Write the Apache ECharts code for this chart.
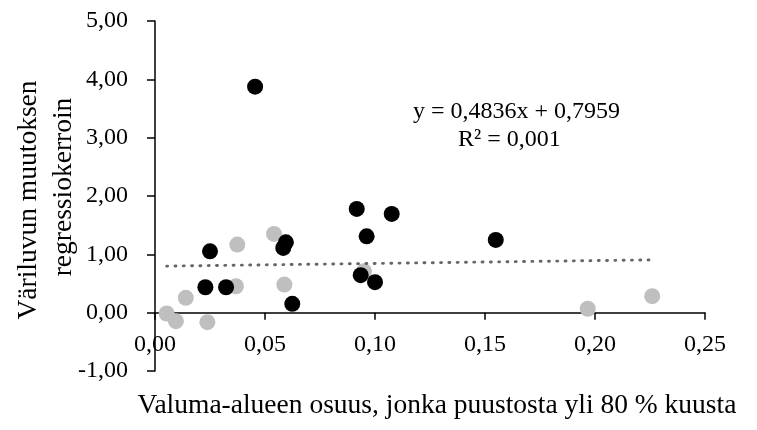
<!DOCTYPE html>
<html>
<head>
<meta charset="utf-8">
<script src="https://cdn.jsdelivr.net/npm/echarts@6/dist/echarts.min.js"></script>
<style>html,body{margin:0;padding:0;background:#fff;}#c{width:757px;height:430px;}</style>
</head>
<body>
<div id="c"></div>
<script>
// Black series (x, y)
var blackX = [0.0455, 0.0250, 0.0229, 0.0323, 0.0595, 0.0583, 0.0624, 0.0917, 0.1076, 0.0962, 0.0935, 0.1000, 0.1549];
var blackY = [3.875, 1.052, 0.436, 0.436, 1.206, 1.110, 0.152, 1.778, 1.692, 1.309, 0.642, 0.522, 1.247];
// Gray series (x, y)
var grayX = [0.0053, 0.0095, 0.0140, 0.0238, 0.0374, 0.0368, 0.0541, 0.0588, 0.0950, 0.1967, 0.2260];
var grayY = [-0.014, -0.145, 0.255, -0.163, 1.167, 0.453, 1.350, 0.482, 0.710, 0.067, 0.282];
// Trendline end points
var trendX = [0.0053, 0.2260];
var trendY = [0.798, 0.905];
var eqText = 'y = 0,4836x + 0,7959';
var r2Text = 'R² = 0,001';
var xTitle = 'Valuma-alueen osuus, jonka puustosta yli 80 % kuusta';
var yTitleLines = ['Väriluvun muutoksen', 'regressiokerroin'];
var yMin = -1, yMax = 5;

function pairs(xs, ys){ return xs.map(function(x,i){ return [x, ys[i]]; }); }
function fmt(v){ return v.toFixed(2).replace('.', ','); }

var FONT = '"Liberation Serif", serif';
var GRID = { left: 155, right: 52, top: 21, bottom: 59 };
var plotH = 430 - GRID.top - GRID.bottom;
// place x axis line at y = 0 via offset from grid bottom
var xOffset = -plotH * (0 - yMin) / (yMax - yMin);

var chart = echarts.init(document.getElementById('c'));
chart.setOption({
  animation: false,
  backgroundColor: '#fff',
  grid: { left: GRID.left, right: GRID.right, top: GRID.top, bottom: GRID.bottom, containLabel: false, outerBoundsMode: 'none' },
  xAxis: {
    type: 'value', min: 0, max: 0.25, interval: 0.05,
    offset: xOffset,
    splitLine: { show: false },
    axisLine: { onZero: false, lineStyle: { color: '#000', width: 1.5 } },
    axisTick: { show: true, length: 7, inside: false, lineStyle: { color: '#000', width: 1.5 } },
    axisLabel: { formatter: fmt, color: '#000', fontFamily: FONT, fontSize: 24, margin: 20 }
  },
  yAxis: {
    type: 'value', min: yMin, max: yMax, interval: 1,
    splitLine: { show: false },
    axisLine: { onZero: false, lineStyle: { color: '#000', width: 1.5 } },
    axisTick: { show: true, length: 8, lineStyle: { color: '#000', width: 1.5 } },
    axisLabel: { formatter: fmt, color: '#000', fontFamily: FONT, fontSize: 24, margin: 27 }
  },
  series: [
    { type: 'scatter', data: pairs(grayX, grayY), symbolSize: 16, itemStyle: { color: '#bfbfbf', opacity: 1 }, z: 2 },
    { type: 'scatter', data: pairs(blackX, blackY), symbolSize: 16, itemStyle: { color: '#000000', opacity: 1 }, z: 3 },
    { type: 'line', data: pairs(trendX, trendY), symbol: 'none', z: 4,
      lineStyle: { color: '#666666', width: 2.9, type: [1, 7.3], cap: 'round' } }
  ],
  graphic: [
    { type: 'text', x: 413, y: 100, style: { text: eqText, fill: '#000', font: '24px ' + FONT } },
    { type: 'text', x: 458, y: 128, style: { text: r2Text, fill: '#000', font: '24px ' + FONT } },
    { type: 'text', x: 437, y: 406, style: { text: xTitle, fill: '#000', font: '27.5px ' + FONT, align: 'center', verticalAlign: 'middle' } },
    { type: 'text', x: 29, y: 200, rotation: Math.PI / 2, style: { text: yTitleLines[0], fill: '#000', font: '27.5px ' + FONT, align: 'center', verticalAlign: 'middle' } },
    { type: 'text', x: 64, y: 187, rotation: Math.PI / 2, style: { text: yTitleLines[1], fill: '#000', font: '27.5px ' + FONT, align: 'center', verticalAlign: 'middle' } }
  ]
});
</script>
</body>
</html>
